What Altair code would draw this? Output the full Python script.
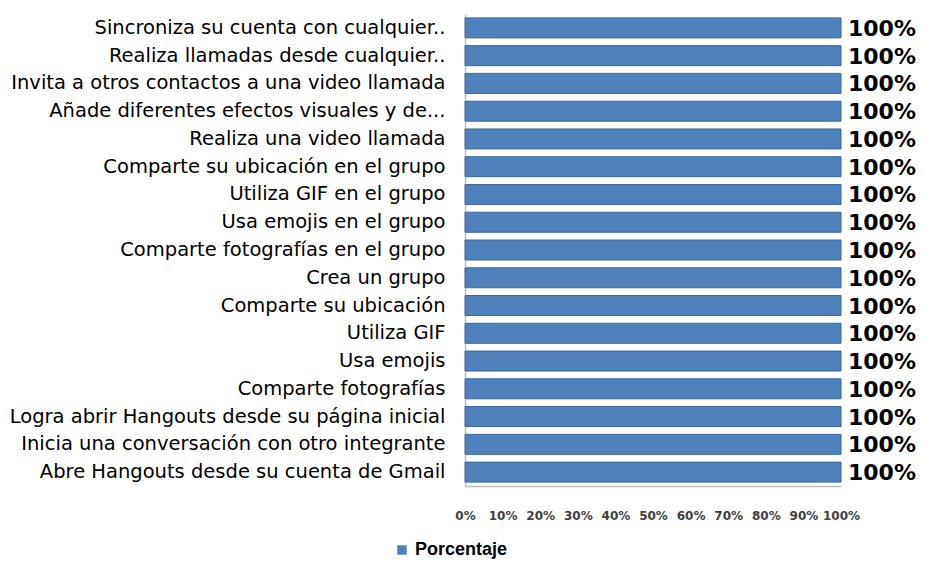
import altair as alt
import pandas as pd

categories = [
    "Sincroniza su cuenta con cualquier..",
    "Realiza llamadas desde cualquier..",
    "Invita a otros contactos a una video llamada",
    "Añade diferentes efectos visuales y de...",
    "Realiza una video llamada",
    "Comparte su ubicación en el grupo",
    "Utiliza GIF en el grupo",
    "Usa emojis en el grupo",
    "Comparte fotografías en el grupo",
    "Crea un grupo",
    "Comparte su ubicación",
    "Utiliza GIF",
    "Usa emojis",
    "Comparte fotografías",
    "Logra abrir Hangouts desde su página inicial",
    "Inicia una conversación con otro integrante",
    "Abre Hangouts desde su cuenta de Gmail",
]
values = [100] * 17
series_name = ["Porcentaje"] * 17
x_ticks = [0, 10, 20, 30, 40, 50, 60, 70, 80, 90, 100]

df = pd.DataFrame({"item": categories, "valor": values, "serie": series_name})

y_axis = alt.Axis(
    labelFont="DejaVu Sans",
    labelFontSize=19.5,
    labelColor="#000000",
    labelPadding=20,
    labelLimit=600,
    ticks=False,
    domain=True,
    domainColor="#BFBFBF",
    domainWidth=1.5,
)
x_axis = alt.Axis(
    values=x_ticks,
    labelExpr="datum.value + '%'",
    labelFont="DejaVu Sans",
    labelFontSize=12,
    labelFontWeight="bold",
    labelColor="#404040",
    labelPadding=24,
    labelOverlap=False,
    labelFlush=False,
    labelBound=False,
    ticks=False,
    grid=False,
    domain=True,
    domainColor="#BFBFBF",
    domainWidth=1.5,
)
x_scale = alt.Scale(domain=[0, 100])
y_scale = alt.Scale(paddingInner=0.28, paddingOuter=0.14)

x_enc = alt.X("valor:Q", title=None, scale=x_scale, axis=x_axis)
y_enc = alt.Y("item:N", sort=categories, title=None, scale=y_scale, axis=y_axis)

bars = alt.Chart(df).mark_bar(stroke="#3E6796", strokeWidth=1).encode(
    x=x_enc,
    y=y_enc,
    color=alt.Color(
        "serie:N",
        scale=alt.Scale(range=["#4F81BD"]),
        legend=alt.Legend(
            title=None,
            orient="none",
            legendX=-72,
            legendY=527,
            symbolType="square",
            symbolSize=90,
            symbolStrokeWidth=0,
            labelOffset=4,
            labelFont="Liberation Sans",
            labelFontSize=18,
            labelFontWeight="bold",
            labelColor="#000000",
        ),
    ),
)

labels = (
    alt.Chart(df)
    .transform_calculate(lbl="datum.valor + '%'")
    .mark_text(
        align="left",
        baseline="middle",
        dx=7,
        dy=1,
        font="DejaVu Sans",
        fontSize=22,
        fontWeight="bold",
        color="#000000",
    )
    .encode(x=x_enc, y=y_enc, text="lbl:N")
)

chart = (
    alt.layer(bars, labels)
    .properties(
        width=376,
        height=472,
        autosize=alt.AutoSizeParams(type="none"),
        padding={"left": 457, "top": 6, "right": 77, "bottom": 74},
        background="white",
    )
    .configure_view(stroke=None)
)

chart.save("out.html", embed_options={"renderer": "svg", "actions": False})
